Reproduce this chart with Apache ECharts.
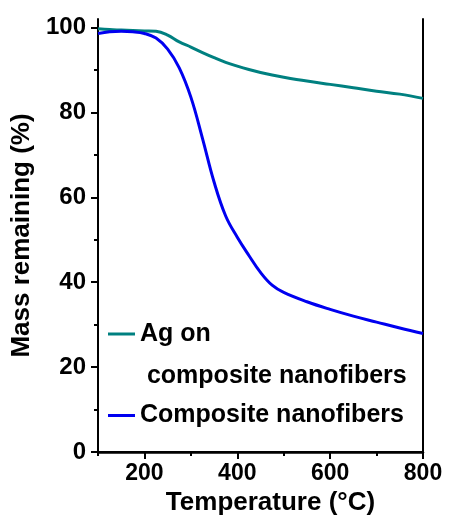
<!DOCTYPE html>
<html>
<head>
<meta charset="utf-8">
<script src="https://cdn.jsdelivr.net/npm/echarts@6/dist/echarts.min.js"></script>
<style>
  html, body { margin: 0; padding: 0; background: #fff; }
  #chart { width: 449px; height: 521px; }
</style>
</head>
<body>
<div id="chart"></div>
<script>
// temperature (°C)
const temps = [100, 125, 150, 175, 200, 225, 250, 275, 300, 325, 350, 375, 400, 425, 450, 475, 500, 550, 600, 650, 700, 750, 800];
// Ag on composite nanofibers
const agValues = [99.7, 99.5, 99.4, 99.3, 99.2, 99.1, 98.2, 96.6, 95.4, 94.1, 92.9, 91.8, 90.9, 90.1, 89.4, 88.8, 88.3, 87.4, 86.6, 85.8, 85.0, 84.3, 83.3];
// Composite nanofibers
const compositeValues = [98.6, 99.0, 99.1, 99.0, 98.6, 97.5, 94.9, 90.5, 83.6, 73.9, 63.6, 55.6, 50.6, 46.3, 42.3, 39.3, 37.6, 35.4, 33.6, 32.0, 30.6, 29.2, 27.9];

const seriesNames = ["Ag on composite nanofibers", "Composite nanofibers"];
const xMajorTicks = [200, 400, 600, 800];
const xMinorTicks = [100, 300, 500, 700];
const yMajorTicks = [0, 20, 40, 60, 80, 100];
const yMinorTicks = [10, 30, 50, 70, 90];

const FONT = "'Liberation Sans', Arial, sans-serif";
const chart = echarts.init(document.getElementById("chart"), null, { renderer: "canvas" });

const pair = (vals) => temps.map((t, i) => [t, vals[i]]);
const black = "#000";

const option = {
  animation: false,
  textStyle: { fontFamily: FONT, color: black },
  grid: { left: 98, right: 26, top: 19, bottom: 69 },
  xAxis: [
    {
      type: "value", min: 100, max: 800, position: "bottom",
      axisLine: { show: true, lineStyle: { color: black, width: 2 } },
      axisTick: { show: true, inside: false, length: 7, customValues: xMajorTicks, lineStyle: { color: black, width: 2 } },
      axisLabel: { customValues: xMajorTicks, margin: 10, fontSize: 23, fontWeight: "bold", color: black, fontFamily: FONT },
      splitLine: { show: false },
      name: "Temperature (°C)", nameLocation: "middle", nameGap: 37,
      nameTextStyle: { fontSize: 26, fontWeight: "bold", color: black, fontFamily: FONT, padding: [0, 0, 0, 20] },
    },
    {
      type: "value", min: 100, max: 800, position: "bottom",
      axisLine: { show: false },
      axisTick: { show: true, length: 4, customValues: xMinorTicks, lineStyle: { color: black, width: 2 } },
      axisLabel: { show: false },
      splitLine: { show: false },
    },
    {
      type: "value", min: 100, max: 800, position: "top",
      axisLine: { show: true, lineStyle: { color: black, width: 2.5 } },
      axisTick: { show: false }, axisLabel: { show: false }, splitLine: { show: false },
    },
  ],
  yAxis: [
    {
      type: "value", min: 0, max: 102, position: "left",
      axisLine: { show: true, lineStyle: { color: black, width: 2 } },
      axisTick: { show: true, length: 7, customValues: yMajorTicks, lineStyle: { color: black, width: 2 } },
      axisLabel: { customValues: yMajorTicks, margin: 12, fontSize: 24, fontWeight: "bold", color: black, fontFamily: FONT },
      splitLine: { show: false },
      name: "Mass remaining (%)", nameLocation: "middle", nameGap: 61,
      nameTextStyle: { fontSize: 26, fontWeight: "bold", color: black, fontFamily: FONT },
    },
    {
      type: "value", min: 0, max: 102, position: "left",
      axisLine: { show: false },
      axisTick: { show: true, length: 4, customValues: yMinorTicks, lineStyle: { color: black, width: 2 } },
      axisLabel: { show: false }, splitLine: { show: false },
    },
    {
      type: "value", min: 0, max: 102, position: "right",
      axisLine: { show: true, lineStyle: { color: black, width: 2 } },
      axisTick: { show: false }, axisLabel: { show: false }, splitLine: { show: false },
    },
  ],
  legend: [
    {
      // empty first line keeps the icon level with "Ag on"
      data: [seriesNames[0]],
      left: 103, top: 266,
      icon: "rect", itemWidth: 27, itemHeight: 3,
      formatter: () => "\nAg on\n composite nanofibers",
      textStyle: { fontSize: 25, fontWeight: "bold", color: black, fontFamily: FONT, lineHeight: 42 },
    },
    {
      data: [seriesNames[1]],
      left: 103, top: 398,
      icon: "rect", itemWidth: 27, itemHeight: 3,
      textStyle: { fontSize: 25, fontWeight: "bold", color: black, fontFamily: FONT },
    },
  ],
  series: [
    {
      name: seriesNames[0], type: "line", xAxisIndex: 0, yAxisIndex: 0,
      data: pair(agValues), smooth: 0.4, symbol: "none",
      lineStyle: { color: "#008080", width: 3 }, itemStyle: { color: "#008080" },
    },
    {
      name: seriesNames[1], type: "line", xAxisIndex: 0, yAxisIndex: 0,
      data: pair(compositeValues), smooth: 0.4, symbol: "none",
      lineStyle: { color: "#0000f0", width: 3 }, itemStyle: { color: "#0000f0" },
    },
  ],
};

chart.setOption(option);
</script>
</body>
</html>
